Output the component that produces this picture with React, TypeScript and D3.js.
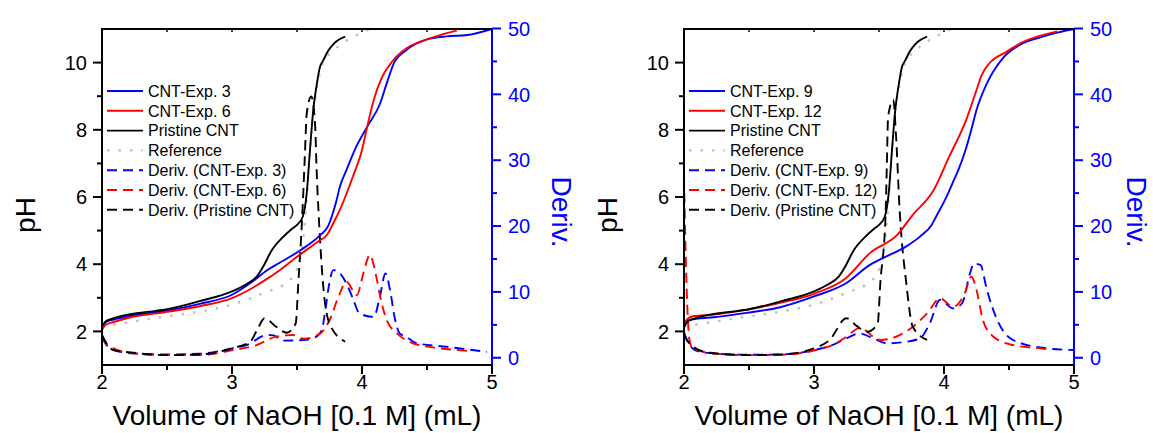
import React from 'react';
import * as d3 from 'd3';

// ---------- DATA ----------
// Reference (shared by both panels)
const refV = [2.0, 2.25, 2.5, 2.75, 3.0, 3.25, 3.45, 3.52, 3.56, 3.59, 3.62, 3.66, 3.7, 3.78, 3.86, 3.96, 4.06];
const refPH = [2.15, 2.3, 2.45, 2.59, 2.8, 3.15, 3.54, 4.1, 5.2, 6.8, 8.3, 9.4, 9.98, 10.35, 10.6, 10.82, 11.0];

// Pristine CNT (shared)
const pristineV = [2.0, 2.03, 2.08, 2.2, 2.35, 2.5, 2.75, 3.0, 3.1, 3.19, 3.25, 3.3, 3.39, 3.46, 3.5, 3.545, 3.575, 3.6, 3.625, 3.65, 3.677, 3.7, 3.74, 3.78, 3.87];
const pristinePH = [2.15, 2.3, 2.38, 2.5, 2.58, 2.66, 2.9, 3.19, 3.38, 3.63, 4.0, 4.38, 4.8, 5.05, 5.17, 5.42, 6.12, 7.4, 8.59, 9.3, 9.88, 10.05, 10.35, 10.55, 10.77];

// Left panel
const exp3V = [2.0, 2.03, 2.09, 2.2, 2.5, 2.75, 3.0, 3.16, 3.27, 3.37, 3.52, 3.68, 3.74, 3.77, 3.805, 3.83, 3.88, 3.95, 4.04, 4.14, 4.19, 4.25, 4.34, 4.5, 4.65, 4.81, 5.0];
const exp3PH = [2.14, 2.28, 2.35, 2.45, 2.62, 2.82, 3.09, 3.49, 3.82, 4.05, 4.4, 4.87, 5.14, 5.45, 5.91, 6.31, 6.8, 7.45, 8.09, 8.79, 9.38, 10.02, 10.37, 10.69, 10.78, 10.82, 11.0];
const exp6V = [2.0, 2.03, 2.09, 2.2, 2.5, 2.75, 3.0, 3.16, 3.26, 3.37, 3.5, 3.66, 3.73, 3.79, 3.83, 3.93, 4.0, 4.04, 4.09, 4.15, 4.24, 4.34, 4.5, 4.6, 4.73];
const exp6PH = [2.05, 2.2, 2.28, 2.4, 2.58, 2.75, 2.99, 3.3, 3.54, 3.83, 4.22, 4.67, 4.87, 5.3, 5.62, 6.61, 7.4, 8.09, 8.89, 9.53, 10.07, 10.42, 10.69, 10.82, 10.95];

const exp3DV = [2.0, 2.04, 2.09, 2.24, 2.5, 2.75, 3.0, 3.12, 3.27, 3.32, 3.39, 3.55, 3.65, 3.69, 3.72, 3.74, 3.78, 3.82, 3.88, 3.93, 3.98, 4.09, 4.14, 4.18, 4.22, 4.25, 4.29, 4.34, 4.42, 4.65, 4.96];
const exp3D = [3.0, 1.8, 1.17, 0.67, 0.5, 0.6, 1.43, 2.0, 3.45, 3.4, 2.6, 2.69, 3.2, 4.2, 7.5, 10.3, 13.3, 13.0, 11.3, 9.0, 6.75, 6.2, 9.5, 12.8, 9.8, 6.2, 3.7, 3.2, 2.2, 1.67, 0.9];
const exp6DV = [2.0, 2.04, 2.09, 2.24, 2.5, 2.75, 3.01, 3.19, 3.34, 3.47, 3.55, 3.68, 3.75, 3.82, 3.88, 3.96, 4.01, 4.06, 4.11, 4.14, 4.19, 4.27, 4.39, 4.6, 4.73, 4.83];
const exp6D = [3.2, 2.0, 1.43, 0.67, 0.4, 0.4, 1.17, 1.93, 3.2, 3.45, 2.9, 3.7, 5.7, 9.3, 11.55, 9.5, 12.8, 15.6, 12.3, 9.3, 5.7, 3.7, 2.2, 1.43, 1.17, 1.0];
const pristineDLeftV = [2.0, 2.04, 2.09, 2.24, 2.5, 2.75, 3.0, 3.14, 3.2, 3.25, 3.34, 3.42, 3.49, 3.51, 3.54, 3.56, 3.575, 3.61, 3.64, 3.65, 3.665, 3.7, 3.75, 3.87];
const pristineDLeft = [3.45, 2.0, 1.17, 0.76, 0.4, 0.5, 1.43, 2.43, 4.5, 6.0, 4.7, 3.8, 5.2, 11.3, 21.4, 30.5, 37.1, 39.7, 35.1, 29.0, 22.4, 11.3, 5.2, 2.43];

// Right panel
const exp9V = [2.0, 2.02, 2.046, 2.23, 2.48, 2.74, 3.0, 3.25, 3.43, 3.53, 3.71, 3.815, 3.905, 3.94, 4.02, 4.07, 4.11, 4.17, 4.21, 4.25, 4.33, 4.45, 4.58, 4.74, 4.88, 5.0];
const exp9PH = [2.1, 2.28, 2.35, 2.42, 2.55, 2.72, 3.04, 3.44, 3.98, 4.18, 4.53, 4.82, 5.17, 5.42, 6.01, 6.45, 6.8, 7.45, 8.0, 8.59, 9.38, 10.12, 10.52, 10.75, 10.9, 11.0];
const exp12V = [2.0, 2.02, 2.07, 2.23, 2.48, 2.74, 3.0, 3.25, 3.43, 3.64, 3.76, 3.92, 4.04, 4.17, 4.25, 4.29, 4.35, 4.48, 4.61, 4.81, 4.87];
const exp12PH = [2.15, 2.35, 2.45, 2.5, 2.64, 2.85, 3.12, 3.6, 4.33, 4.87, 5.47, 6.2, 7.2, 8.29, 9.18, 9.63, 9.98, 10.32, 10.62, 10.87, 10.93];

const exp9DV = [2.0, 2.02, 2.04, 2.08, 2.2, 2.5, 2.75, 3.0, 3.15, 3.25, 3.35, 3.46, 3.56, 3.7, 3.815, 3.89, 3.97, 4.07, 4.14, 4.2, 4.23, 4.28, 4.33, 4.41, 4.53, 4.79, 5.0];
const exp9D = [3.9, 2.8, 2.1, 1.2, 0.7, 0.45, 0.5, 1.17, 2.0, 2.95, 3.7, 2.9, 2.2, 2.4, 2.95, 5.2, 8.8, 7.5, 8.3, 12.8, 14.3, 14.1, 10.3, 5.7, 2.7, 1.43, 1.17];
const exp12DV = [2.0, 2.01, 2.025, 2.04, 2.06, 2.1, 2.2, 2.5, 2.75, 3.0, 3.15, 3.25, 3.35, 3.51, 3.76, 3.87, 3.97, 4.07, 4.16, 4.21, 4.25, 4.3, 4.38, 4.53, 4.74, 4.8];
const exp12D = [27.5, 18, 8, 3, 1.6, 1.2, 0.7, 0.4, 0.45, 1.1, 2.0, 3.2, 4.5, 2.7, 4.7, 6.75, 9.0, 7.75, 9.8, 12.3, 10.3, 5.7, 3.2, 1.93, 1.43, 1.3];
const pristineDRightV = [2.0, 2.04, 2.07, 2.2, 2.5, 2.75, 3.0, 3.12, 3.25, 3.33, 3.41, 3.49, 3.51, 3.55, 3.56, 3.57, 3.61, 3.63, 3.66, 3.71, 3.76, 3.87];
const pristineDRight = [3.45, 2.2, 1.67, 0.76, 0.4, 0.5, 1.43, 2.7, 6.0, 4.8, 3.95, 5.2, 11.3, 21.4, 29.0, 36.6, 39.2, 34.1, 22.0, 11.3, 4.7, 2.7];

const leftLegend = ['CNT-Exp. 3', 'CNT-Exp. 6', 'Pristine CNT', 'Reference', 'Deriv. (CNT-Exp. 3)', 'Deriv. (CNT-Exp. 6)', 'Deriv. (Pristine CNT)'];
const rightLegend = ['CNT-Exp. 9', 'CNT-Exp. 12', 'Pristine CNT', 'Reference', 'Deriv. (CNT-Exp. 9)', 'Deriv. (CNT-Exp. 12)', 'Deriv. (Pristine CNT)'];

const xTicks = [2, 3, 4, 5];
const xMinor = [2.5, 3.5, 4.5];
const phTicks = [2, 4, 6, 8, 10];
const phMinor = [3, 5, 7, 9];
const dTicks = [0, 10, 20, 30, 40, 50];
const dMinor = [5, 15, 25, 35, 45];

const FONT = '"Liberation Sans", Arial, Helvetica, sans-serif';
const BLUE = '#0000ff';
const RED = '#ff0000';
const GRAY = '#c0c0c0';
const DASH = '10,6';
const DOT = '2.5,9';

const zip = (a: number[], b: number[]) => a.map((v, i) => [v, b[i]] as [number, number]);

type S = { pts: [number, number][]; color: string; dash?: string; axis: 'ph' | 'd' };

function Panel({ ox, id, series, legend, derivX }: { ox: number; id: string; series: S[]; legend: { label: string; color: string; dash?: string }[]; derivX: number }) {
  const top = 29, bottom = 365, W = 390;
  const x = d3.scaleLinear().domain([2, 5]).range([ox, ox + W]);
  const yPH = d3.scaleLinear().domain([1, 11]).range([bottom, top]);
  const yD = d3.scaleLinear().domain([-1.1, 50]).range([bottom, 28.5]);
  const mk = (axis: 'ph' | 'd') =>
    d3.line<[number, number]>().x(d => x(d[0])).y(d => (axis === 'ph' ? yPH(d[1]) : yD(d[1]))).curve(d3.curveMonotoneX);
  const right = ox + W;
  return (
    <g>
      <defs>
        <clipPath id={id}>
          <rect x={ox} y={top} width={W} height={bottom - top} />
        </clipPath>
      </defs>
      <g clipPath={`url(#${id})`}>
        {series.map((s, i) => (
          <path key={i} d={mk(s.axis)(s.pts) || ''} fill="none" stroke={s.color} strokeWidth={s.color === GRAY ? 2.4 : 1.9} strokeDasharray={s.dash} />
        ))}
      </g>
      {/* axes frame */}
      <line x1={ox} x2={right} y1={top} y2={top} stroke="#000" strokeWidth={2} />
      <line x1={ox} x2={right} y1={bottom} y2={bottom} stroke="#000" strokeWidth={2} />
      <line x1={ox} x2={ox} y1={top - 1} y2={bottom + 1} stroke="#000" strokeWidth={2} />
      <line x1={right} x2={right} y1={28} y2={bottom + 1} stroke={BLUE} strokeWidth={2} />
      {/* bottom ticks */}
      {xTicks.map(t => (
        <g key={'xt' + t}>
          <line x1={x(t)} x2={x(t)} y1={bottom} y2={bottom + 9} stroke="#000" strokeWidth={2} />
          <line x1={x(t)} x2={x(t)} y1={top} y2={top + 3} stroke="#000" strokeWidth={1.5} />
          <text x={x(t)} y={389} textAnchor="middle" fontSize={20} fontFamily={FONT}>{t}</text>
        </g>
      ))}
      {xMinor.map(t => (
        <g key={'xm' + t}>
          <line x1={x(t)} x2={x(t)} y1={bottom} y2={bottom + 5} stroke="#000" strokeWidth={2} />
          <line x1={x(t)} x2={x(t)} y1={top} y2={top + 3} stroke="#000" strokeWidth={1.5} />
        </g>
      ))}
      {/* left ticks */}
      {phTicks.map(t => (
        <g key={'pt' + t}>
          <line x1={ox - 9} x2={ox} y1={yPH(t)} y2={yPH(t)} stroke="#000" strokeWidth={2} />
          <text x={ox - 15} y={yPH(t)} dy="0.36em" textAnchor="end" fontSize={20} fontFamily={FONT}>{t}</text>
        </g>
      ))}
      {phMinor.map(t => (
        <line key={'pm' + t} x1={ox - 5} x2={ox} y1={yPH(t)} y2={yPH(t)} stroke="#000" strokeWidth={2} />
      ))}
      {/* right ticks */}
      {dTicks.map(t => (
        <g key={'dt' + t}>
          <line x1={right} x2={right + 9} y1={yD(t)} y2={yD(t)} stroke={BLUE} strokeWidth={2} />
          <text x={right + 16} y={yD(t)} dy="0.36em" textAnchor="start" fontSize={20} fontFamily={FONT} fill={BLUE}>{t}</text>
        </g>
      ))}
      {dMinor.map(t => (
        <line key={'dm' + t} x1={right} x2={right + 5} y1={yD(t)} y2={yD(t)} stroke={BLUE} strokeWidth={2} />
      ))}
      {/* titles */}
      <text x={ox + W / 2} y={425} textAnchor="middle" fontSize={28} fontFamily={FONT}>Volume of NaOH [0.1 M] (mL)</text>
      <text transform={`translate(${ox - 67},215) rotate(-90)`} textAnchor="middle" fontSize={28} fontFamily={FONT}>pH</text>
      <text transform={`translate(${derivX},212) rotate(90)`} textAnchor="middle" fontSize={28} fontFamily={FONT} fill={BLUE}>Deriv.</text>
      {/* legend */}
      {legend.map((l, i) => {
        const yy = 91 + i * 19.8;
        return (
          <g key={'lg' + i}>
            <line x1={ox + 5} x2={ox + 41} y1={yy} y2={yy} stroke={l.color} strokeWidth={l.color === GRAY ? 2.4 : 1.9} strokeDasharray={l.dash} />
            <text x={ox + 46} y={yy} dy="0.36em" fontSize={16} fontFamily={FONT}>{l.label}</text>
          </g>
        );
      })}
    </g>
  );
}

export default function App() {
  const leftSeries: S[] = [
    { pts: zip(refV, refPH), color: GRAY, dash: DOT, axis: 'ph' },
    { pts: zip(exp3DV, exp3D), color: BLUE, dash: DASH, axis: 'd' },
    { pts: zip(exp6DV, exp6D), color: RED, dash: DASH, axis: 'd' },
    { pts: zip(pristineDLeftV, pristineDLeft), color: '#000', dash: DASH, axis: 'd' },
    { pts: zip(exp3V, exp3PH), color: BLUE, axis: 'ph' },
    { pts: zip(exp6V, exp6PH), color: RED, axis: 'ph' },
    { pts: zip(pristineV, pristinePH), color: '#000', axis: 'ph' },
  ];
  const rightSeries: S[] = [
    { pts: zip(refV, refPH), color: GRAY, dash: DOT, axis: 'ph' },
    { pts: zip(exp9DV, exp9D), color: BLUE, dash: DASH, axis: 'd' },
    { pts: zip(exp12DV, exp12D), color: RED, dash: DASH, axis: 'd' },
    { pts: zip(pristineDRightV, pristineDRight), color: '#000', dash: DASH, axis: 'd' },
    { pts: zip(exp9V, exp9PH), color: BLUE, axis: 'ph' },
    { pts: zip(exp12V, exp12PH), color: RED, axis: 'ph' },
    { pts: zip(pristineV, pristinePH), color: '#000', axis: 'ph' },
  ];
  const legendStyles = [
    { color: BLUE }, { color: RED }, { color: '#000' }, { color: GRAY, dash: DOT },
    { color: BLUE, dash: DASH }, { color: RED, dash: DASH }, { color: '#000', dash: DASH },
  ];
  const leftLeg = leftLegend.map((label, i) => ({ label, ...legendStyles[i] }));
  const rightLeg = rightLegend.map((label, i) => ({ label, ...legendStyles[i] }));
  return (
    <svg width={1153} height={433} style={{ position: 'absolute', left: 0, top: 0, background: '#fff' }}>
      <rect width={1153} height={433} fill="#fff" />
      <Panel ox={102} id="clipL" series={leftSeries} legend={leftLeg} derivX={552} />
      <Panel ox={684} id="clipR" series={rightSeries} legend={rightLeg} derivX={1127} />
    </svg>
  );
}
